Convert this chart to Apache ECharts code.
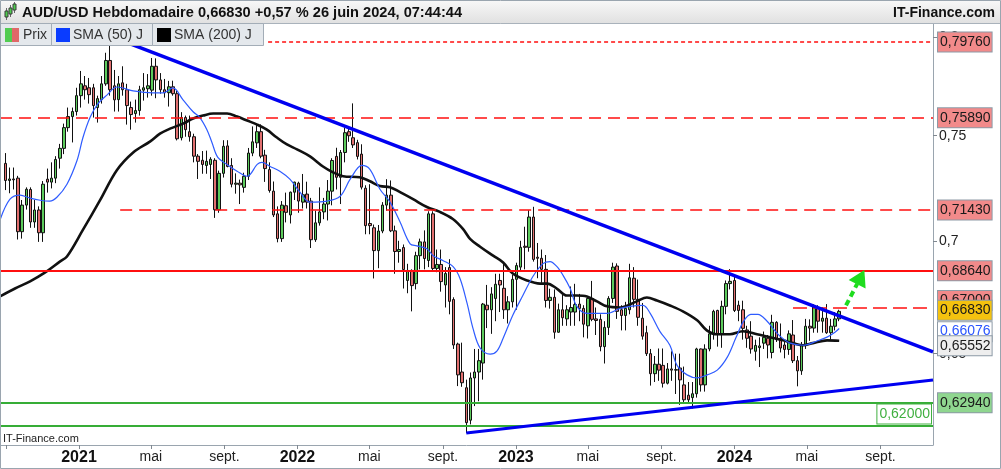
<!DOCTYPE html>
<html>
<head>
<meta charset="utf-8">
<title>AUD/USD Hebdomadaire</title>
<script src="https://cdn.jsdelivr.net/npm/echarts@6/dist/echarts.min.js"></script>
<style>
html,body{margin:0;padding:0;background:#ffffff;overflow:hidden;}
#chart{width:1001px;height:469px;}
</style>
</head>
<body>
<div id="chart"></div>
<script>
// ================= DATA =================
const firstWeek = '2020-08-31';   // Monday of the first weekly candle
const opens = [
0.7365,0.7283,0.7290,0.7294,0.7042,0.7166,0.7240,0.7087,0.7143,0.7037,
0.7289,0.7275,0.7294,0.7390,0.7438,0.7540,0.7595,0.7620,0.7700,0.7750,
0.7740,0.7740,0.7640,0.7680,0.7760,0.7880,0.7750,0.7680,0.7765,0.7730,
0.7640,0.7610,0.7625,0.7728,0.7735,0.7728,0.7850,0.7780,0.7730,0.7715,
0.7745,0.7710,0.7490,0.7590,0.7520,0.7495,0.7400,0.7380,0.7355,0.7360,
0.7380,0.7144,0.7317,0.7450,0.7355,0.7265,0.7270,0.7250,0.7303,0.7415,
0.7465,0.7520,0.7405,0.7335,0.7232,0.7125,0.7010,0.7163,0.7120,0.7227,
0.7270,0.7180,0.7218,0.7185,0.7005,0.7083,0.7134,0.7171,0.7232,0.7399,
0.7298,0.7418,0.7520,0.7490,0.7466,0.7410,0.7246,0.7080,0.7060,0.6955,
0.7045,0.7166,0.7213,0.7046,0.6951,0.6969,0.6820,0.6865,0.6806,0.6932,
0.6995,0.6910,0.7125,0.6874,0.6892,0.6800,0.6878,0.6735,0.6541,0.6422,
0.6356,0.6222,0.6397,0.6422,0.6460,0.6710,0.6690,0.6740,0.6820,0.6785,
0.6690,0.6725,0.6825,0.6880,0.6975,0.6970,0.7110,0.6925,0.6920,0.6870,
0.6731,0.6745,0.6592,0.6690,0.6650,0.6680,0.6680,0.6715,0.6696,0.6620,
0.6740,0.6650,0.6648,0.6530,0.6613,0.6740,0.6885,0.6690,0.6665,0.6690,
0.6830,0.6736,0.6653,0.6590,0.6500,0.6415,0.6455,0.6450,0.6375,0.6435,
0.6430,0.6439,0.6368,0.6325,0.6315,0.6331,0.6520,0.6368,0.6520,0.6585,
0.6687,0.6585,0.6705,0.6806,0.6820,0.6710,0.6690,0.6602,0.6575,0.6510,
0.6526,0.6545,0.6566,0.6505,0.6635,0.6566,0.6537,0.6518,0.6580,0.6470,
0.6427,0.6537,0.6618,0.6610,0.6700,0.6640,0.6653,0.6590,0.6618,0.6650];
const highs = [
0.7415,0.7345,0.7345,0.7305,0.7190,0.7250,0.7250,0.7190,0.7160,0.7280,
0.7340,0.7370,0.7400,0.7460,0.7560,0.7640,0.7640,0.7740,0.7826,0.7800,
0.7790,0.7760,0.7700,0.7800,0.7920,0.8007,0.7831,0.7800,0.7850,0.7760,
0.7670,0.7680,0.7750,0.7815,0.7810,0.7893,0.7891,0.7815,0.7785,0.7775,
0.7776,0.7725,0.7617,0.7600,0.7600,0.7510,0.7410,0.7425,0.7427,0.7395,
0.7390,0.7330,0.7478,0.7478,0.7390,0.7317,0.7287,0.7320,0.7440,0.7546,
0.7556,0.7556,0.7431,0.7370,0.7278,0.7160,0.7185,0.7225,0.7230,0.7277,
0.7277,0.7314,0.7277,0.7200,0.7140,0.7250,0.7200,0.7285,0.7390,0.7441,
0.7430,0.7540,0.7540,0.7661,0.7480,0.7458,0.7260,0.7265,0.7075,0.7073,
0.7180,0.7289,0.7283,0.7070,0.7000,0.6983,0.6895,0.6870,0.6950,0.7010,
0.7048,0.7137,0.7137,0.6960,0.6960,0.6880,0.6916,0.6745,0.6547,0.6547,
0.6390,0.6420,0.6520,0.6520,0.6720,0.6800,0.6790,0.6850,0.6850,0.6895,
0.6750,0.6845,0.6900,0.7000,0.7065,0.7142,0.7158,0.6990,0.6960,0.6935,
0.6783,0.6780,0.6717,0.6758,0.6710,0.6793,0.6805,0.6760,0.6710,0.6750,
0.6818,0.6700,0.6670,0.6640,0.6750,0.6900,0.6897,0.6710,0.6725,0.6895,
0.6880,0.6824,0.6720,0.6620,0.6520,0.6490,0.6522,0.6522,0.6460,0.6510,
0.6500,0.6500,0.6445,0.6380,0.6380,0.6525,0.6522,0.6540,0.6620,0.6690,
0.6690,0.6730,0.6820,0.6871,0.6840,0.6730,0.6730,0.6620,0.6640,0.6560,
0.6570,0.6595,0.6580,0.6668,0.6640,0.6630,0.6550,0.6600,0.6645,0.6490,
0.6550,0.6650,0.6648,0.6714,0.6710,0.6700,0.6715,0.6650,0.6680,0.6690];
const lows = [
0.7237,0.7222,0.7240,0.7006,0.7010,0.7145,0.7060,0.7060,0.6995,0.6995,
0.7225,0.7245,0.7270,0.7340,0.7410,0.7520,0.7467,0.7600,0.7640,0.7680,
0.7660,0.7590,0.7565,0.7660,0.7750,0.7700,0.7620,0.7620,0.7700,0.7555,
0.7530,0.7565,0.7600,0.7675,0.7690,0.7700,0.7687,0.7710,0.7690,0.7645,
0.7700,0.7477,0.7477,0.7495,0.7471,0.7370,0.7290,0.7315,0.7315,0.7290,
0.7106,0.7130,0.7297,0.7346,0.7250,0.7220,0.7171,0.7225,0.7285,0.7400,
0.7440,0.7390,0.7276,0.7225,0.7110,0.6993,0.6995,0.7085,0.7080,0.7190,
0.7130,0.7150,0.7150,0.6967,0.6995,0.7070,0.7100,0.7094,0.7165,0.7240,
0.7171,0.7370,0.7470,0.7440,0.7384,0.7240,0.7030,0.7030,0.6829,0.6875,
0.7035,0.7140,0.7040,0.6850,0.6900,0.6784,0.6763,0.6683,0.6780,0.6870,
0.6870,0.6880,0.6860,0.6857,0.6770,0.6700,0.6670,0.6520,0.6363,0.6360,
0.6170,0.6205,0.6280,0.6300,0.6390,0.6610,0.6585,0.6640,0.6680,0.6650,
0.6630,0.6700,0.6690,0.6860,0.6870,0.6950,0.6905,0.6830,0.6810,0.6700,
0.6695,0.6564,0.6590,0.6620,0.6620,0.6620,0.6620,0.6640,0.6570,0.6565,
0.6640,0.6580,0.6510,0.6458,0.6580,0.6720,0.6650,0.6600,0.6600,0.6670,
0.6700,0.6620,0.6560,0.6490,0.6365,0.6380,0.6385,0.6357,0.6370,0.6385,
0.6330,0.6285,0.6290,0.6296,0.6270,0.6315,0.6340,0.6340,0.6510,0.6560,
0.6530,0.6525,0.6670,0.6780,0.6680,0.6640,0.6560,0.6525,0.6500,0.6470,
0.6443,0.6520,0.6480,0.6480,0.6550,0.6505,0.6480,0.6495,0.6460,0.6362,
0.6410,0.6520,0.6555,0.6590,0.6590,0.6590,0.6585,0.6560,0.6600,0.6640];
const closes = [
0.7283,0.7290,0.7286,0.7042,0.7166,0.7241,0.7087,0.7143,0.7037,0.7265,
0.7275,0.7294,0.7384,0.7438,0.7540,0.7595,0.7620,0.7700,0.7760,0.7730,
0.7705,0.7650,0.7685,0.7760,0.7880,0.7730,0.7679,0.7760,0.7730,0.7650,
0.7605,0.7625,0.7730,0.7740,0.7750,0.7850,0.7780,0.7730,0.7715,0.7745,
0.7710,0.7485,0.7590,0.7530,0.7495,0.7400,0.7375,0.7360,0.7375,0.7385,
0.7144,0.7317,0.7448,0.7350,0.7265,0.7270,0.7262,0.7303,0.7415,0.7470,
0.7520,0.7400,0.7340,0.7235,0.7120,0.7010,0.7166,0.7132,0.7227,0.7275,
0.7185,0.7215,0.7180,0.7005,0.7083,0.7134,0.7171,0.7232,0.7379,0.7298,
0.7418,0.7515,0.7500,0.7455,0.7399,0.7251,0.7070,0.7070,0.6955,0.7045,
0.7166,0.7213,0.7046,0.6951,0.6960,0.6869,0.6865,0.6797,0.6932,0.6995,
0.6919,0.7125,0.6874,0.6892,0.6815,0.6851,0.6727,0.6537,0.6410,0.6377,
0.6212,0.6397,0.6422,0.6470,0.6715,0.6690,0.6760,0.6803,0.6800,0.6690,
0.6725,0.6825,0.6887,0.6970,0.6970,0.7110,0.6915,0.6920,0.6870,0.6731,
0.6745,0.6592,0.6690,0.6655,0.6690,0.6700,0.6713,0.6696,0.6627,0.6740,
0.6648,0.6643,0.6530,0.6613,0.6740,0.6880,0.6683,0.6665,0.6696,0.6832,
0.6736,0.6657,0.6575,0.6500,0.6415,0.6455,0.6430,0.6375,0.6435,0.6430,
0.6432,0.6389,0.6306,0.6306,0.6331,0.6520,0.6368,0.6520,0.6585,0.6683,
0.6585,0.6705,0.6806,0.6816,0.6687,0.6687,0.6609,0.6566,0.6520,0.6535,
0.6533,0.6570,0.6537,0.6635,0.6560,0.6524,0.6518,0.6585,0.6470,0.6427,
0.6537,0.6618,0.6610,0.6705,0.6640,0.6653,0.6590,0.6618,0.6650,0.6683];

// SMA (50) J (weeks since first candle, price)
const sma50Weeks = [-1.28,1.1,3.5,5.9,8.3,10.6,12.3,14.7,17.1,18.5,20.2,21.9,24.3,26.6,28.1,30.5,35.2,37.6,40.0,42.4,44.8,46.4,48.1,49.3,50.7,52.9,55.3,57.7,60.1,61.2,63.2,65.5,67.9,70.3,72.7,76.8,79.9,82.3,85.1,87.0,89.4,91.8,94.2,96.6,98.2,100.6,102.1,104.4,106.8,108.5,110.2,111.6,113.3,115.7,117.3,118.8,121.1,123.5,125.9,128.3,130.0,131.6,133.1,134.8,136.4,138.8,143.6,146.7,149.1,152.2,153.9,156.2,158.6,160.3,162.7,165.1,167.5,169.9,172.3,174.4,176.2,177.9,179.6,181.8,183.2,184.9,187.3,190.4,193.7,196.1,198.0,199.0];
const sma50Values = [0.7096,0.7194,0.7213,0.7199,0.7189,0.7185,0.7203,0.7265,0.7379,0.7490,0.7590,0.7654,0.7704,0.7744,0.7739,0.7724,0.7714,0.7714,0.7739,0.7679,0.7619,0.7590,0.7530,0.7467,0.7394,0.7360,0.7327,0.7303,0.7360,0.7370,0.7350,0.7327,0.7289,0.7227,0.7180,0.7185,0.7208,0.7289,0.7355,0.7336,0.7241,0.7180,0.7087,0.6986,0.6977,0.6964,0.6932,0.6910,0.6883,0.6829,0.6718,0.6609,0.6524,0.6498,0.6511,0.6566,0.6666,0.6753,0.6838,0.6896,0.6905,0.6883,0.6843,0.6784,0.6705,0.6674,0.6674,0.6696,0.6705,0.6709,0.6674,0.6596,0.6536,0.6450,0.6410,0.6397,0.6410,0.6430,0.6485,0.6570,0.6640,0.6670,0.6670,0.6640,0.6609,0.6575,0.6545,0.6536,0.6554,0.6571,0.6592,0.6608];
// SMA (200) J
const sma200Weeks = [-1.28,2.3,5.9,9.5,13.0,14.7,18.5,22.6,26.6,30.5,34.5,36.9,39.3,42.4,44.8,47.2,49.6,52.9,55.3,57.7,60.1,62.4,64.8,67.2,69.6,72.7,75.8,78.2,80.6,84.6,87.0,89.4,91.8,94.2,97.3,100.6,103.7,106.8,109.2,110.9,113.3,116.4,118.8,121.1,124.5,127.6,129.3,131.6,134.0,136.4,138.8,141.2,143.6,146.7,150.7,153.1,155.5,158.6,161.7,165.1,167.4,169.8,172.9,176.0,179.4,182.5,185.6,188.0,190.4,192.7,196.1,199.0];
const sma200Values = [0.6749,0.6784,0.6816,0.6856,0.6905,0.6928,0.7050,0.7189,0.7332,0.7418,0.7471,0.7510,0.7535,0.7560,0.7585,0.7600,0.7610,0.7610,0.7595,0.7575,0.7555,0.7530,0.7491,0.7457,0.7433,0.7399,0.7350,0.7322,0.7303,0.7298,0.7279,0.7256,0.7251,0.7227,0.7194,0.7157,0.7134,0.7101,0.7055,0.7009,0.6973,0.6932,0.6901,0.6851,0.6820,0.6806,0.6806,0.6784,0.6753,0.6753,0.6749,0.6727,0.6705,0.6700,0.6727,0.6744,0.6731,0.6709,0.6683,0.6644,0.6600,0.6583,0.6583,0.6596,0.6583,0.6570,0.6557,0.6545,0.6536,0.6545,0.6557,0.6555];

// horizontal levels
const levelPrices = [0.7976, 0.7589, 0.7143, 0.6864, 0.6700, 0.6294, 0.6200];
const levelStartWeeks = [62.7, null, 27.4, null, 187.97, null, null];
const lastPrice = 0.66830;
const sma50Last = 0.66076;
const sma200Last = 0.65552;
// trend lines and arrow (weeks since first candle, price)
const downTrendWeeks = [25, 221.39];
const downTrendPrices = [0.8007, 0.6508];
const upTrendWeeks = [110, 221.39];
const upTrendPrices = [0.6170, 0.6388];
const arrowWeeks = [200.63, 203.3];        // dashed shaft
const arrowPrices = [0.6709, 0.6805];
const arrowHeadWeek = 204.15;              // head centre
const arrowHeadPrice = 0.6835;
// axes
const viewWeeks = [-1.2816, 221.39];
const viewPrices = [0.61215, 0.8071];
const yTickPrices = [0.65, 0.70, 0.75, 0.80];
const xTickDates = ['2020-09-01','2021-01-01','2021-05-01','2021-09-01','2022-01-01','2022-05-01','2022-09-01','2023-01-01','2023-05-01','2023-09-01','2024-01-01','2024-05-01','2024-09-01'];
const xLabelDates = ['2021-01-01','2021-05-01','2021-09-01','2022-01-01','2022-05-01','2022-09-01','2023-01-01','2023-05-01','2023-09-01','2024-01-01','2024-05-01','2024-09-01'];
const monthNames = {4: 'mai', 8: 'sept.'};
const titleText = 'AUD/USD Hebdomadaire 0,66830 +0,57 % 26 juin 2024, 07:44:44';
const brandText = 'IT-Finance.com';
const legendNames = ['Prix', 'SMA (50) J', 'SMA (200) J'];

// ================= BUILD =================
const FONT = "'Liberation Sans', Arial, Helvetica, sans-serif";
const DAY = 86400000;
const parseDate = s => { const [y, m, d] = s.split('-').map(Number); return Date.UTC(y, m - 1, d); };
const T0 = parseDate(firstWeek);
const wt = w => T0 + w * 7 * DAY;
const L = Math.log;
const fmt5 = p => p.toFixed(5).replace('.', ',');
const xMin = wt(viewWeeks[0]), xMax = wt(viewWeeks[1]);
const yMin = L(viewPrices[0]), yMax = L(viewPrices[1]);

const candleData = opens.map((o, i) => [wt(i), L(o), L(closes[i]), L(lows[i]), L(highs[i])]);
const sma50Data = sma50Weeks.map((w, i) => [wt(w), L(sma50Values[i])]);
const sma200Data = sma200Weeks.map((w, i) => [wt(w), L(sma200Values[i])]);

const RED = '#ff0f0f', GREEN = '#36ad36', ARROW = '#1fdc1f';
function box(text, bg, color, extra) {
  return Object.assign({
    show: true, position: 'end', distance: 5, formatter: text,
    color: color, backgroundColor: bg, borderColor: '#8d9aa6', borderWidth: 1,
    padding: [2, 1, 1, 2], fontSize: 14, lineHeight: 16, fontFamily: FONT
  }, extra || {});
}
const redBg = '#f28a8a';
const levelStyles = [
  {color: RED, width: 1.5, type: [4, 3]},
  {color: RED, width: 1.5, type: [12, 7]},
  {color: RED, width: 1.5, type: [12, 7]},
  {color: RED, width: 2, type: 'solid'},
  {color: RED, width: 1.5, type: [14, 6]},
  {color: GREEN, width: 2, type: 'solid'},
  {color: GREEN, width: 2, type: 'solid'}
];
const levelLabels = [
  p => box(fmt5(p), redBg, '#1a1a1a'),
  p => box(fmt5(p), redBg, '#1a1a1a'),
  p => box(fmt5(p), redBg, '#1a1a1a'),
  p => box(fmt5(p), redBg, '#1a1a1a'),
  p => box(fmt5(p), redBg, '#1a1a1a', {offset: [0, -7]}),
  p => box(fmt5(p), '#8fd68f', '#1a1a1a'),
  p => box(fmt5(p), '#ffffff', '#40b040', {position: 'insideEndTop', distance: 2, borderColor: '#40b040'})
];
const levelLines = levelPrices.map((p, i) => {
  const ls = levelStyles[i], lb = levelLabels[i](p);
  if (levelStartWeeks[i] == null) return {yAxis: L(p), lineStyle: ls, label: lb};
  return [{coord: [wt(levelStartWeeks[i]), L(p)], lineStyle: ls, label: lb}, {coord: [xMax, L(p)]}];
});
const hidden = {color: 'rgba(0,0,0,0)', width: 1, type: 'solid'};
const tagLine = (p, lb) => [{coord: [wt(viewWeeks[1] - 0.05), L(p)], lineStyle: hidden, label: lb}, {coord: [xMax, L(p)]}];
const tagLines = [
  tagLine(lastPrice, box(fmt5(lastPrice), '#f4c20f', '#1a1a1a', {offset: [0, -1]})),
  tagLine(sma50Last, box(fmt5(sma50Last), '#ffffff', '#2a55ff', {offset: [0, 3]})),
  tagLine(sma200Last, box(fmt5(sma200Last), '#eeeeee', '#1a1a1a', {offset: [0, 5]}))
];

const chart = echarts.init(document.getElementById('chart'), null, {renderer: 'canvas', width: 1001, height: 469});

const gtxt = (text, x, y, font, fill, align) => ({
  type: 'text', z: 101, silent: true,
  style: {text: text, x: x, y: y, font: font, fill: fill, textAlign: align || 'left', align: align || 'left', textVerticalAlign: 'middle', verticalAlign: 'middle'}
});
const grect = (x, y, w, h, fill, stroke, z) => ({
  type: 'rect', z: z || 100, silent: true, shape: {x: x, y: y, width: w, height: h},
  style: {fill: fill, stroke: stroke || null, lineWidth: stroke ? 1 : 0}
});
const gline = (x1, y1, x2, y2, stroke, z) => ({
  type: 'line', z: z || 101, silent: true, shape: {x1: x1, y1: y1, x2: x2, y2: y2}, style: {stroke: stroke, lineWidth: 1}
});

const graphics = [
  {type: 'rect', z: 99, silent: true, shape: {x: 0, y: 0, width: 1001, height: 24},
   style: {fill: new echarts.graphic.LinearGradient(0, 0, 0, 1, [{offset: 0, color: '#f8f8f8'}, {offset: 1, color: '#e0e0e0'}])}},
  gline(0, 23.5, 1001, 23.5, '#a9b2bb', 100),
  gline(6.5, 8, 6.5, 20, '#666'), grect(5, 11, 3, 6, '#4fcc4f', '#3a3a3a', 102),
  gline(10.5, 5, 10.5, 17, '#666'), grect(9, 8, 3, 6, '#4fcc4f', '#3a3a3a', 102),
  gline(14.5, 2, 14.5, 13, '#666'), grect(13, 4, 3, 6, '#4fcc4f', '#3a3a3a', 102),
  gtxt(titleText, 22, 13, 'bold 14.6px ' + FONT, '#111111'),
  gtxt(brandText, 995, 13, 'bold 14px ' + FONT, '#111111', 'right'),
  grect(0.5, 23.5, 51, 22, '#e4e8ec', '#a3adb7'),
  grect(51.5, 23.5, 101, 22, '#e4e8ec', '#a3adb7'),
  grect(152.5, 23.5, 111, 22, '#e4e8ec', '#a3adb7'),
  grect(5, 28, 7, 14, '#52cc52', null, 101),
  grect(12, 28, 7, 14, '#e06868', null, 101),
  gtxt(legendNames[0], 23, 35, '14px ' + FONT, '#333333'),
  grect(56, 28, 14, 14, '#0a3cff', null, 101),
  gtxt(legendNames[1], 73, 35, '14px ' + FONT, '#333333'),
  grect(157, 28, 14, 14, '#000000', null, 101),
  gtxt(legendNames[2], 174, 35, '14px ' + FONT, '#333333'),
  gtxt(brandText, 3, 439, '11px ' + FONT, '#222222'),
  {type: 'rect', z: 102, silent: true, shape: {x: 0.5, y: 0.5, width: 1000, height: 468},
   style: {fill: null, stroke: '#9aa5af', lineWidth: 1}}
];

const option = {
  animation: false,
  backgroundColor: '#ffffff',
  textStyle: {fontFamily: FONT},
  grid: {left: 0, right: 68, top: 24, bottom: 24, containLabel: false, outerBoundsMode: 'none'},
  xAxis: {
    type: 'value', min: xMin, max: xMax, scale: true,
    axisLine: {show: true, onZero: false, lineStyle: {color: '#9aa5af', width: 1}},
    axisTick: {show: true, customValues: xTickDates.map(parseDate), length: 4, lineStyle: {color: '#808890'}},
    axisLabel: {
      show: true, customValues: xLabelDates.map(parseDate), margin: 5,
      fontSize: 14, color: '#222222', fontFamily: FONT, hideOverlap: false,
      formatter: function (v) {
        const d = new Date(v); const m = d.getUTCMonth();
        if (m === 0) return '{y|' + d.getUTCFullYear() + '}';
        return monthNames[m] || '';
      },
      rich: {y: {fontWeight: 'bold', fontSize: 16, color: '#111111', fontFamily: FONT}}
    },
    splitLine: {show: false}
  },
  yAxis: {
    type: 'value', position: 'right', min: yMin, max: yMax, scale: true,
    axisLine: {show: true, onZero: false, lineStyle: {color: '#9aa5af', width: 1}},
    axisTick: {show: true, customValues: yTickPrices.map(L), length: 4, lineStyle: {color: '#808890'}},
    axisLabel: {
      show: true, customValues: yTickPrices.map(L), margin: 6,
      fontSize: 14, color: '#222222', fontFamily: FONT,
      formatter: function (v) { const p = Math.round(Math.exp(v) * 100) / 100; return String(p).replace('.', ','); }
    },
    splitLine: {show: false}
  },
  graphic: graphics,
  series: [
    {
      type: 'candlestick', name: 'Prix', z: 2,
      dimensions: ['time', 'open', 'close', 'low', 'high'],
      encode: {x: 0, y: [1, 2, 3, 4]},
      data: candleData, barWidth: 3,
      itemStyle: {color: '#5ccb5c', color0: '#e27070', borderColor: '#111111', borderColor0: '#111111', borderWidth: 1}
    },
    {
      type: 'line', name: 'SMA (200) J', z: 3, data: sma200Data, smooth: 0.35, showSymbol: false, symbol: 'none',
      lineStyle: {color: '#111111', width: 2.6}
    },
    {
      type: 'line', name: 'SMA (50) J', z: 3, data: sma50Data, smooth: 0.35, showSymbol: false, symbol: 'none',
      lineStyle: {color: '#2f5cff', width: 1.2}
    },
    {
      type: 'line', z: 4, data: [], silent: true,
      markLine: {silent: true, animation: false, symbol: ['none', 'none'], precision: 6, data: levelLines}
    },
    {
      type: 'line', name: 'trend-down', z: 5, showSymbol: false, symbol: 'none',
      data: downTrendWeeks.map((w, i) => [wt(w), L(downTrendPrices[i])]),
      lineStyle: {color: '#0000f0', width: 3.5}
    },
    {
      type: 'line', name: 'trend-up', z: 5, showSymbol: false, symbol: 'none',
      data: upTrendWeeks.map((w, i) => [wt(w), L(upTrendPrices[i])]),
      lineStyle: {color: '#0000f0', width: 3}
    },
    {
      type: 'line', name: 'arrow-shaft', z: 6, showSymbol: false, symbol: 'none', silent: true,
      data: arrowWeeks.map((w, i) => [wt(w), L(arrowPrices[i])]),
      lineStyle: {color: ARROW, width: 4, type: [6, 4]}
    },
    {
      type: 'scatter', name: 'arrow-head', z: 6, silent: true,
      symbol: 'triangle', symbolSize: [19, 16], symbolRotate: -27,
      data: [[wt(arrowHeadWeek), L(arrowHeadPrice)]],
      itemStyle: {color: ARROW, opacity: 1}
    },
    {
      type: 'line', z: 7, data: [], silent: true,
      markLine: {silent: true, animation: false, symbol: ['none', 'none'], data: tagLines}
    }
  ]
};
chart.setOption(option);
</script>
</body>
</html>
